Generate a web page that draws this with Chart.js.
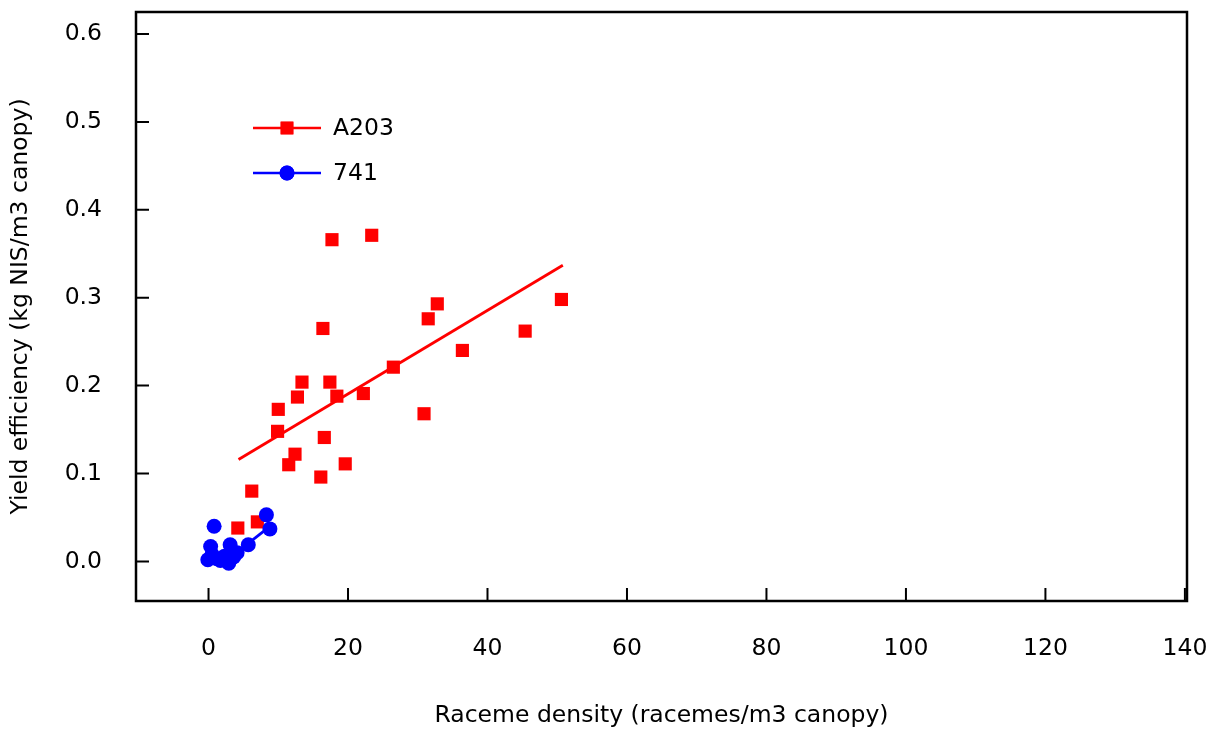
<!DOCTYPE html>
<html>
<head>
<meta charset="utf-8">
<script src="https://cdn.jsdelivr.net/npm/chart.js@4.4.0/dist/chart.umd.min.js"></script>
<style>
  html, body { margin: 0; padding: 0; background: #fff; }
</style>
</head>
<body>
<canvas id="myChart" width="1217" height="731"></canvas>
<script>
// raceme density vs yield efficiency, two cultivars
const a203Density = [4.2, 7.0, 6.2, 9.9, 10.0, 11.5, 12.4, 12.75, 13.4, 16.1, 16.4, 16.6, 17.4, 17.7, 18.4, 19.6, 22.2, 23.4, 26.5, 30.9, 31.5, 32.8, 36.4, 45.4, 50.6];
const a203Yield = [0.038, 0.045, 0.080, 0.148, 0.173, 0.110, 0.122, 0.187, 0.204, 0.096, 0.265, 0.141, 0.204, 0.366, 0.188, 0.111, 0.191, 0.371, 0.221, 0.168, 0.276, 0.293, 0.240, 0.262, 0.298];

const c741Density = [0.8, 8.3, 8.8, 5.7, 3.1, 0.3, -0.1, 0.5, 1.7, 2.9, 3.6, 4.1, 2.3, 1.2];
const c741Yield = [0.040, 0.053, 0.037, 0.019, 0.019, 0.017, 0.002, 0.008, 0.001, -0.002, 0.005, 0.010, 0.006, 0.003];

// fitted lines (end points)
const a203FitX = [4.3, 50.8];
const a203FitY = [0.116, 0.337];
const c741FitX = [4.0, 8.8];
const c741FitY = [0.010, 0.040];

const xTicks = [0, 20, 40, 60, 80, 100, 120, 140];
const yTicks = [0.0, 0.1, 0.2, 0.3, 0.4, 0.5, 0.6];

const seriesNames = ["A203", "741"];
const seriesColors = ["#ff0000", "#0000ff"];
const seriesMarkers = ["rect", "circle"];

const FONT = "'DejaVu Sans', sans-serif";
const FONT_SIZE = 23.5;

const toPoints = (xs, ys) => xs.map((x, i) => ({ x: x, y: ys[i] }));

// box round the plot area with inward ticks
const framePlugin = {
  id: "frame",
  afterDraw(chart) {
    const { ctx, chartArea: a, scales } = chart;
    ctx.save();
    ctx.strokeStyle = "#000";
    ctx.lineWidth = 2.5;
    ctx.strokeRect(a.left, a.top, a.right - a.left, a.bottom - a.top);
    ctx.lineWidth = 2;
    ctx.beginPath();
    xTicks.forEach((v) => {
      const px = scales.x.getPixelForValue(v);
      ctx.moveTo(px, a.bottom);
      ctx.lineTo(px, a.bottom - 13);
    });
    yTicks.forEach((v) => {
      const py = scales.y.getPixelForValue(v);
      ctx.moveTo(a.left, py);
      ctx.lineTo(a.left + 13, py);
    });
    ctx.stroke();
    ctx.restore();
  },
};

// legend: short line with marker, then the name
const legendPlugin = {
  id: "lineLegend",
  afterDraw(chart) {
    const ctx = chart.ctx;
    ctx.save();
    seriesNames.forEach((name, i) => {
      const y = 128 + i * 45;
      ctx.strokeStyle = seriesColors[i];
      ctx.fillStyle = seriesColors[i];
      ctx.lineWidth = 2.5;
      ctx.beginPath();
      ctx.moveTo(253, y);
      ctx.lineTo(321, y);
      ctx.stroke();
      Chart.helpers.drawPoint(ctx, { pointStyle: seriesMarkers[i], radius: i === 0 ? 9 : 7.5, borderWidth: 0 }, 287, y);
      ctx.fill();
      ctx.fillStyle = "#000";
      ctx.font = FONT_SIZE + "px " + FONT;
      ctx.textBaseline = "middle";
      ctx.textAlign = "left";
      ctx.fillText(name, 333, y + 1);
    });
    ctx.restore();
  },
};

const element = document.getElementById("myChart");

new Chart(element, {
  type: "scatter",
  data: {
    datasets: [
      {
        label: seriesNames[1],
        data: toPoints(c741Density, c741Yield),
        backgroundColor: seriesColors[1],
        borderColor: seriesColors[1],
        borderWidth: 0,
        pointStyle: seriesMarkers[1],
        pointRadius: 7.5,
      },
      {
        label: seriesNames[1] + " fit",
        data: toPoints(c741FitX, c741FitY),
        showLine: true,
        borderColor: seriesColors[1],
        borderWidth: 2.8,
        pointRadius: 0,
      },
      {
        label: seriesNames[0],
        data: toPoints(a203Density, a203Yield),
        backgroundColor: seriesColors[0],
        borderColor: seriesColors[0],
        borderWidth: 0,
        pointStyle: seriesMarkers[0],
        pointRadius: 9.3,
      },
      {
        label: seriesNames[0] + " fit",
        data: toPoints(a203FitX, a203FitY),
        showLine: true,
        borderColor: seriesColors[0],
        borderWidth: 2.8,
        pointRadius: 0,
      },
    ],
  },
  options: {
    responsive: false,
    animation: false,
    layout: { padding: { left: 0, top: 12, right: 30, bottom: 0 } },
    plugins: {
      legend: { display: false },
      tooltip: { enabled: false },
    },
    scales: {
      x: {
        type: "linear",
        min: -10.4,
        max: 140.3,
        grid: { display: false, drawTicks: false },
        border: { display: false },
        afterBuildTicks: (scale) => {
          scale.ticks = xTicks.map((v) => ({ value: v }));
        },
        afterFit: (scale) => {
          scale.height = 130;
          scale.paddingLeft = 0;
          scale.paddingRight = 0;
        },
        ticks: {
          padding: 34,
          color: "#000",
          font: { family: FONT, size: FONT_SIZE },
          maxRotation: 0,
          callback: (v) => String(v),
        },
        title: {
          display: true,
          text: "Raceme density (racemes/m3 canopy)",
          color: "#000",
          font: { family: FONT, size: FONT_SIZE },
          padding: { top: 0, bottom: 1 },
        },
      },
      y: {
        type: "linear",
        min: -0.045,
        max: 0.625,
        grid: { display: false, drawTicks: false },
        border: { display: false },
        afterBuildTicks: (scale) => {
          scale.ticks = yTicks.map((v) => ({ value: v }));
        },
        afterFit: (scale) => {
          scale.width = 136;
          scale.paddingTop = 0;
          scale.paddingBottom = 0;
        },
        ticks: {
          padding: 34,
          color: "#000",
          font: { family: FONT, size: FONT_SIZE },
          callback: (v) => v.toFixed(1),
        },
        title: {
          display: true,
          text: "Yield efficiency (kg NIS/m3 canopy)",
          color: "#000",
          font: { family: FONT, size: FONT_SIZE },
          padding: { top: 7, bottom: 0 },
        },
      },
    },
  },
  plugins: [framePlugin, legendPlugin],
});
</script>
</body>
</html>
